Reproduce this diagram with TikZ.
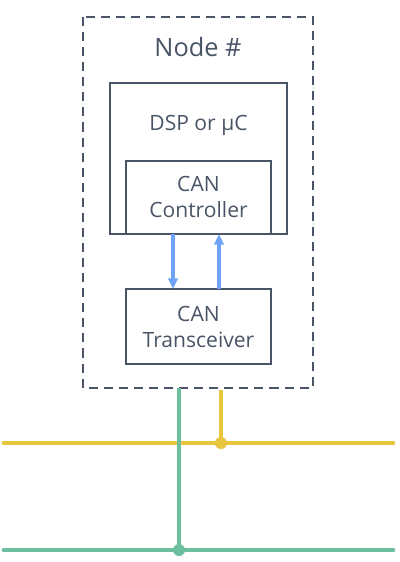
\documentclass[tikz,border=0pt]{standalone}
\usepackage{fontspec}
\setmainfont{Open Sans}
\usetikzlibrary{arrows.meta}
\definecolor{ink}{HTML}{4A5467}
\definecolor{arrowblue}{HTML}{6FA3F7}
\definecolor{busyellow}{HTML}{E8C53C}
\definecolor{busgreen}{HTML}{6DBE9F}
\begin{document}
\begin{tikzpicture}[x=0.75pt,y=-0.75pt,
  box/.style={draw=ink,line width=1.8pt,inner sep=0pt},
  lbl/.style={text=ink,font=\fontsize{15.8}{19.5}\selectfont,align=center,inner sep=0pt},
  link/.style={draw=arrowblue,line width=2.4pt,-{Triangle[length=8pt,width=7pt]}},
  dot/.style={circle,inner sep=0pt,minimum size=9pt}]
\useasboundingbox (0,0) rectangle (400,562);
\draw[ink,line width=1.8pt,dash pattern=on 6.8pt off 4.5pt] (83,17) rectangle (313,388);
\node[lbl,font=\fontsize{19}{22}\selectfont] (title) at (198,47) {Node \#};
\node[box,minimum width=177*0.75pt,minimum height=151*0.75pt] (dsp) at (198.5,158.5) {};
\node[lbl] (dsplbl) at (198.5,125) {DSP or μC};
\node[box,minimum width=145*0.75pt,minimum height=73*0.75pt] (ctrl) at (198.5,197.5) {};
\node[lbl] (ctrllbl) at (198.5,197) {CAN\\Controller};
\node[box,minimum width=145*0.75pt,minimum height=75*0.75pt] (trx) at (198.5,326.5) {};
\node[lbl] (trxlbl) at (198.5,327) {CAN\\Transceiver};
\coordinate (ctop1) at (173,234);
\coordinate (cbot1) at (173,289);
\coordinate (ctop2) at (219,234);
\coordinate (cbot2) at (219,289);
\draw[link] (ctop1) -- (cbot1);
\draw[link] (cbot2) -- (ctop2);
% buses
\coordinate (yl) at (4,443);
\coordinate (yr) at (393,443);
\coordinate (gl) at (4,550);
\coordinate (gr) at (393,550);
\node[dot,fill=busyellow] (ydot) at (221,443) {};
\node[dot,fill=busgreen] (gdot) at (179,550) {};
\coordinate (ytop) at (221,390);
\coordinate (gtop) at (179,388);
\draw[busyellow,line width=3.5pt,line cap=round] (yl) -- (yr);
\draw[busgreen,line width=3.5pt,line cap=round] (gl) -- (gr);
\draw[busyellow,line width=2.6pt] (ytop) -- (ydot.center);
\draw[busgreen,line width=2.6pt] (gtop) -- (gdot.center);
\end{tikzpicture}
\end{document}
